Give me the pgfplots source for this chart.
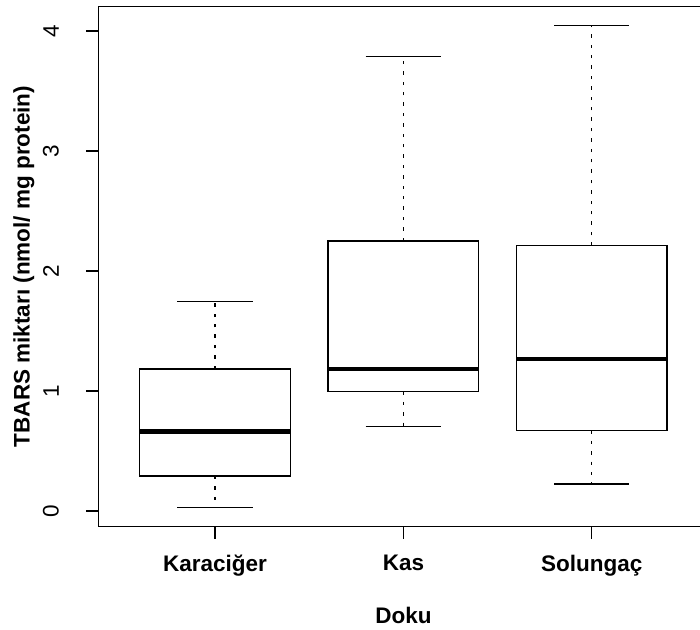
\documentclass[border=0pt]{standalone}
\usepackage{pgfplots}
\pgfplotsset{compat=1.18}
\usepgfplotslibrary{statistics}
\usepackage{fontspec}
\setmainfont{Liberation Sans}

\tikzset{rwhisker/.style={line width=0.75pt, black}}

% whisker: dashed stem from the box, solid cap at the end
\pgfplotsset{
  boxplot/draw/lower whisker/.code={%
    \draw[rwhisker, dash pattern=on 1.7pt off 3.5pt]
      (boxplot box cs:\pgfplotsboxplotvalue{lower quartile},0.5) --
      (boxplot box cs:\pgfplotsboxplotvalue{lower whisker},0.5);
    \draw[rwhisker]
      (boxplot whisker cs:\pgfplotsboxplotvalue{lower whisker},0) --
      (boxplot whisker cs:\pgfplotsboxplotvalue{lower whisker},1);
  },
  boxplot/draw/upper whisker/.code={%
    \draw[rwhisker, dash pattern=on 1.7pt off 3.5pt]
      (boxplot box cs:\pgfplotsboxplotvalue{upper quartile},0.5) --
      (boxplot box cs:\pgfplotsboxplotvalue{upper whisker},0.5);
    \draw[rwhisker]
      (boxplot whisker cs:\pgfplotsboxplotvalue{upper whisker},0) --
      (boxplot whisker cs:\pgfplotsboxplotvalue{upper whisker},1);
  },
}

\begin{document}
\begin{tikzpicture}
\useasboundingbox (0,0) rectangle (350pt,315pt);
\clip (0,0) rectangle (350pt,315pt);
\begin{axis}[
  at={(49.15pt,51.7pt)}, anchor=south west,
  scale only axis, width=305.1pt, height=260.1pt,
  xmin=0.38, xmax=3.62, ymin=-0.1295, ymax=4.205,
  axis line style={line width=0.75pt, black},
  xtick={1,2,3},
  xticklabels={Karaciğer, Kas, Solungaç},
  ytick={0,1,2,3,4},
  xtick pos=bottom, ytick pos=left,
  tick align=outside, major tick length=6pt,
  major tick style={line width=0.75pt, black},
  /pgf/number format/assume math mode=true,
  xticklabel style={font=\fontsize{11.25}{13.5}\selectfont\bfseries, anchor=north, inner sep=0pt, yshift=-8pt},
  yticklabel style={font=\fontsize{11.25}{13.5}\selectfont, rotate=90, anchor=south, inner sep=0pt, yshift=13.5pt},
  xlabel={Doku},
  ylabel={TBARS miktarı (nmol/ mg protein)},
  every axis x label/.style={at={(axis description cs:0.5,-0.17)}, anchor=center, font=\fontsize{11.25}{13.5}\selectfont\bfseries},
  every axis y label/.style={at={(axis description cs:-0.1218,0.5)}, rotate=90, anchor=center, font=\fontsize{11.25}{13.5}\selectfont\bfseries},
  boxplot/draw direction=y,
  boxplot/box extend=0.8,
  boxplot/whisker extend=0.4,
  boxplot/every box/.style={draw=black, line width=0.75pt, fill=none},
  boxplot/every median/.style={line width=2.2pt, black},
]
% Karaciğer
\addplot[black, boxplot prepared={draw position=1,
  lower whisker=0.031, lower quartile=0.292, median=0.664,
  upper quartile=1.183, upper whisker=1.744}] coordinates {};
% Kas
\addplot[black, boxplot prepared={draw position=2,
  lower whisker=0.706, lower quartile=0.997, median=1.186,
  upper quartile=2.250, upper whisker=3.786}] coordinates {};
% Solungaç
\addplot[black, boxplot prepared={draw position=3,
  lower whisker=0.225, lower quartile=0.672, median=1.267,
  upper quartile=2.211, upper whisker=4.044}] coordinates {};
\end{axis}
\end{tikzpicture}
\end{document}
